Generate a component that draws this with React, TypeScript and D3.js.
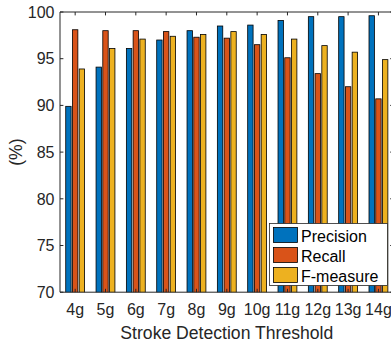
import React from "react";
import * as d3 from "d3";

const categories = ["4g", "5g", "6g", "7g", "8g", "9g", "10g", "11g", "12g", "13g", "14g"];
const seriesNames = ["Precision", "Recall", "F-measure"];
const precision = [89.9, 94.1, 96.1, 97.0, 98.0, 98.5, 98.6, 99.1, 99.5, 99.5, 99.6];
const recall = [98.1, 98.0, 98.0, 97.9, 97.3, 97.2, 96.5, 95.1, 93.4, 92.0, 90.7];
const fmeasure = [93.9, 96.1, 97.1, 97.4, 97.6, 97.9, 97.6, 97.1, 96.4, 95.7, 94.9];
const yTicks = [70, 75, 80, 85, 90, 95, 100];
const colors = ["#0072BD", "#D95319", "#EDB120"];

const W = 391;
const H = 346;
const plot = { left: 60, right: 393.6, top: 12, bottom: 292.2 };
const font = "'Liberation Sans', Arial, Helvetica, sans-serif";
const axisColor = "#262626";

export default function App() {
  const series = [precision, recall, fmeasure];
  const x = d3.scaleLinear().domain([0.5, categories.length + 0.5]).range([plot.left, plot.right]);
  const y = d3.scaleLinear().domain([70, 100]).range([plot.bottom, plot.top]);

  // grouped bar layout: group width shared by the three series
  const n = series.length;
  const groupWidth = Math.min(0.8, n / (n + 1.5));
  const step = groupWidth / n;
  const barW = 0.8 * step;
  const tickLen = 3.4;

  return (
    <svg width={W} height={H} style={{ position: "absolute", left: 0, top: 0, background: "#fff" }}>
      <defs>
        <clipPath id="plotClip">
          <rect x={plot.left} y={plot.top} width={plot.right - plot.left} height={plot.bottom - plot.top} />
        </clipPath>
      </defs>
      <rect x={0} y={0} width={W} height={H} fill="#fff" />
      <g clipPath="url(#plotClip)">
        {series.map((vals, si) =>
          vals.map((v, i) => {
            const center = i + 1 + (si - (n - 1) / 2) * step;
            const px = x(center - barW / 2);
            const pw = x(center + barW / 2) - px;
            return (
              <rect
                key={`${si}-${i}`}
                x={px}
                y={y(v)}
                width={pw}
                height={y(0) - y(v)}
                fill={colors[si]}
                stroke="#000"
                strokeWidth={0.8}
              />
            );
          })
        )}
      </g>
      {/* axes box */}
      <g stroke={axisColor} strokeWidth={1} fill="none">
        <line x1={plot.left} x2={plot.right} y1={plot.top} y2={plot.top} />
        <line x1={plot.left} x2={plot.right} y1={plot.bottom} y2={plot.bottom} />
        <line x1={plot.left} x2={plot.left} y1={plot.top} y2={plot.bottom} />
        <line x1={plot.right} x2={plot.right} y1={plot.top} y2={plot.bottom} />
        {categories.map((c, i) => (
          <g key={c}>
            <line x1={x(i + 1)} x2={x(i + 1)} y1={plot.top} y2={plot.top + tickLen} />
            <line x1={x(i + 1)} x2={x(i + 1)} y1={plot.bottom} y2={plot.bottom - tickLen} />
          </g>
        ))}
        {yTicks.map((t) => (
          <g key={t}>
            <line x1={plot.left} x2={plot.left + tickLen} y1={y(t)} y2={y(t)} />
            <line x1={plot.right} x2={plot.right - tickLen} y1={y(t)} y2={y(t)} />
          </g>
        ))}
      </g>
      <g fontFamily={font} fontSize={16} fill={axisColor}>
        {categories.map((c, i) => (
          <text key={c} x={x(i + 1)} y={315} textAnchor="middle">
            {c}
          </text>
        ))}
        {yTicks.map((t) => (
          <text key={t} x={54.5} y={y(t) + 5.7} textAnchor="end">
            {t}
          </text>
        ))}
      </g>
      <text x={(plot.left + plot.right) / 2} y={338.6} textAnchor="middle" fontFamily={font} fontSize={17.6} fill={axisColor}>
        Stroke Detection Threshold
      </text>
      <text
        transform={`translate(22,${(plot.top + plot.bottom) / 2}) rotate(-90)`}
        textAnchor="middle"
        fontFamily={font}
        fontSize={17.6}
        fill={axisColor}
      >
        (%)
      </text>
      {/* legend */}
      <g>
        <rect x={269.5} y={223.5} width={118} height={62} fill="#fff" stroke={axisColor} strokeWidth={0.8} />
        {seriesNames.map((name, i) => (
          <g key={name}>
            <rect x={273.5} y={227.5 + i * 20} width={24} height={15} fill={colors[i]} stroke="#000" strokeWidth={0.8} />
            <text x={301} y={241.5 + i * 20} fontFamily={font} fontSize={16} fill="#000">
              {name}
            </text>
          </g>
        ))}
      </g>
    </svg>
  );
}
